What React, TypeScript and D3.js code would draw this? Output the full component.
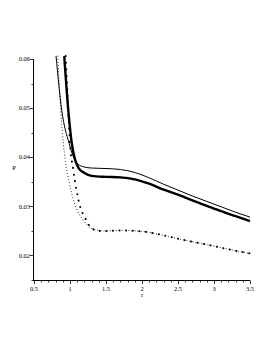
import { useEffect, useRef } from 'react'
import * as d3 from 'd3'

// r values and P values
const thinR = [0.806, 0.885, 0.986, 1.05, 1.11, 1.2, 1.3, 1.5, 1.7, 1.9, 2.1, 2.3, 2.5, 2.7, 2.9, 3.1, 3.3, 3.5]
const thinP = [0.0606, 0.0496, 0.0429, 0.04, 0.0386, 0.038, 0.0378, 0.0377, 0.0375, 0.0369, 0.0358, 0.0345, 0.0333, 0.0321, 0.031, 0.0299, 0.0288, 0.0278]

const thickR = [0.92, 0.976, 1.024, 1.07, 1.12, 1.2, 1.3, 1.5, 1.7, 1.9, 2.1, 2.3, 2.5, 2.7, 2.9, 3.1, 3.3, 3.5]
const thickP = [0.0606, 0.0496, 0.0429, 0.0395, 0.0378, 0.0368, 0.0362, 0.036, 0.0359, 0.0355, 0.0346, 0.0334, 0.0324, 0.0312, 0.0301, 0.029, 0.028, 0.027]

const smallDotR = [0.83, 0.871, 0.907, 0.954, 0.986, 1.046, 1.1, 1.18, 1.26, 1.35, 1.5, 1.7, 1.9, 2.0, 2.2, 2.5, 2.8, 3.0, 3.25, 3.5]
const smallDotP = [0.0606, 0.0496, 0.0429, 0.0374, 0.035, 0.0314, 0.0292, 0.0273, 0.0259, 0.0252, 0.025, 0.0251, 0.025, 0.0249, 0.0244, 0.0234, 0.0225, 0.0219, 0.0211, 0.0204]

const bigDotR = [0.94, 0.976, 1.0, 1.046, 1.093, 1.139, 1.208, 1.278, 1.393, 1.5, 1.7, 1.9, 2.0, 2.2, 2.5, 2.8, 3.0, 3.25, 3.5]
const bigDotP = [0.0606, 0.0496, 0.0429, 0.0374, 0.0331, 0.03, 0.0277, 0.0259, 0.025, 0.025, 0.0251, 0.025, 0.0249, 0.0244, 0.0234, 0.0225, 0.0219, 0.0211, 0.0204]

const xTicks = [0.5, 1, 1.5, 2, 2.5, 3, 3.5]
const xTickLabels = ['0.5', '1', '1.5', '2', '2.5', '3', '3.5']
const yTicks = [0.02, 0.03, 0.04, 0.05, 0.06]
const yTickLabels = ['0.02', '0.03', '0.04', '0.05', '0.06']

const W = 273
const H = 353

export default function App() {
  const svgRef = useRef<SVGSVGElement>(null)

  useEffect(() => {
    if (!svgRef.current) return
    const svg = d3.select(svgRef.current)
    svg.selectAll('*').remove()

    const x = d3.scaleLinear().domain([0.5, 3.5]).range([34, 250])
    const y = d3.scaleLinear().domain([0.015, 0.06]).range([280, 59])
    const font = 'Liberation Serif, Times New Roman, serif'

    // axes
    svg.append('line')
      .attr('x1', 33.5).attr('x2', 33.5)
      .attr('y1', y(0.06)).attr('y2', 280.5)
      .attr('stroke', '#000').attr('stroke-width', 1)
    svg.append('line')
      .attr('x1', 33).attr('x2', x(3.5))
      .attr('y1', 280.5).attr('y2', 280.5)
      .attr('stroke', '#000').attr('stroke-width', 1)

    // x minor/major ticks
    const xMinor = d3.range(5, 36).map(d => d / 10)
    svg.selectAll('.xt')
      .data(xMinor)
      .enter().append('line')
      .attr('x1', d => Math.round(x(d)) + 0.5)
      .attr('x2', d => Math.round(x(d)) + 0.5)
      .attr('y1', 280.5)
      .attr('y2', d => (xTicks.some(t => Math.abs(t - d) < 1e-6) ? 284 : 282.5))
      .attr('stroke', '#000').attr('stroke-width', 0.8)

    svg.selectAll('.xl')
      .data(xTicks)
      .enter().append('text')
      .attr('x', d => x(d))
      .attr('y', 291)
      .attr('text-anchor', 'middle')
      .style('font-family', font)
      .style('font-size', '6.5px')
      .text((d, i) => xTickLabels[i])

    // y ticks
    const yMinor = d3.range(3, 13).map(d => d * 0.005)
    svg.selectAll('.yt')
      .data(yMinor)
      .enter().append('line')
      .attr('x1', 33.5)
      .attr('x2', d => (yTicks.some(t => Math.abs(t - d) < 1e-6) ? 30 : 31.5))
      .attr('y1', d => Math.round(y(d)) + 0.5)
      .attr('y2', d => Math.round(y(d)) + 0.5)
      .attr('stroke', '#000').attr('stroke-width', 0.8)

    svg.selectAll('.yl')
      .data(yTicks)
      .enter().append('text')
      .attr('x', 30)
      .attr('y', d => y(d) + 2.2)
      .attr('text-anchor', 'end')
      .style('font-family', font)
      .style('font-size', '6.5px')
      .text((d, i) => yTickLabels[i])

    // axis labels
    svg.append('text')
      .attr('x', 142).attr('y', 297)
      .attr('text-anchor', 'middle')
      .style('font-family', font).style('font-size', '6.5px')
      .text('r')
    svg.append('text')
      .attr('x', 14).attr('y', 170)
      .attr('text-anchor', 'middle')
      .style('font-family', font).style('font-size', '6.5px')
      .text('P')

    const line = d3.line<[number, number]>()
      .x(d => x(d[0]))
      .y(d => y(d[1]))
      .curve(d3.curveMonotoneX)

    const zip = (a: number[], b: number[]) => a.map((v, i) => [v, b[i]] as [number, number])

    svg.append('path')
      .datum(zip(thinR, thinP))
      .attr('fill', 'none')
      .attr('stroke', '#000')
      .attr('stroke-width', 1)
      .attr('d', line)

    svg.append('path')
      .datum(zip(thickR, thickP))
      .attr('fill', 'none')
      .attr('stroke', '#000')
      .attr('stroke-width', 2.4)
      .attr('d', line)

    svg.append('path')
      .datum(zip(smallDotR, smallDotP))
      .attr('fill', 'none')
      .attr('stroke', '#000')
      .attr('stroke-width', 1)
      .attr('stroke-linecap', 'round')
      .attr('stroke-dasharray', '0.1 3')
      .attr('d', line)

    svg.append('path')
      .datum(zip(bigDotR, bigDotP))
      .attr('fill', 'none')
      .attr('stroke', '#000')
      .attr('stroke-width', 2)
      .attr('stroke-linecap', 'round')
      .attr('stroke-dasharray', '0.1 6.5')
      .attr('d', line)
  }, [])

  return (
    <div style={{ position: 'fixed', left: 0, top: 0, width: W, height: H, background: '#fff' }}>
      <svg ref={svgRef} width={W} height={H} />
    </div>
  )
}
